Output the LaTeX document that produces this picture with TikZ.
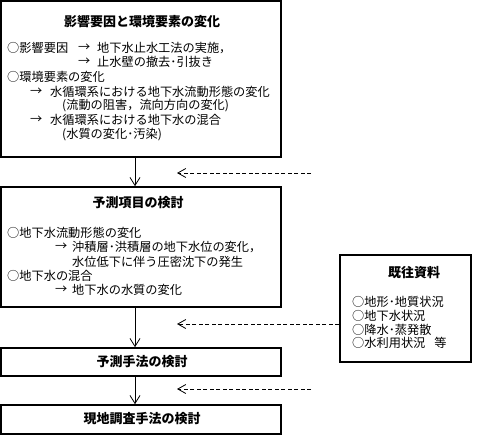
\documentclass[tikz,border=0pt]{standalone}
\usepackage{fontspec}
\setmainfont{Noto Sans CJK JP}
\usetikzlibrary{arrows.meta}
\begin{document}
\begin{tikzpicture}[x=1pt,y=-1pt,
  box/.style={draw,line width=1.6pt,inner sep=0pt},
  ttl/.style={font=\fontsize{13}{13}\selectfont\bfseries,inner sep=0pt},
  txt/.style={font=\fontsize{12.2}{12.2}\selectfont,inner sep=0pt,anchor=west},
  flow/.style={line width=0.8pt,-{Straight Barb[length=8pt,width=10pt]}},
  hint/.style={line width=0.8pt,dash pattern=on 4pt off 2.5pt,-{Straight Barb[length=8pt,width=9pt]}}]
\useasboundingbox (0,0) rectangle (478,438);
% boxes
\node[box,minimum width=280pt,minimum height=156pt] (b1) at (141,79) {};
\node[box,minimum width=280pt,minimum height=120pt] (b2) at (141,247) {};
\node[box,minimum width=280pt,minimum height=28pt] (b3) at (141,362) {};
\node[box,minimum width=280pt,minimum height=29pt] (b4) at (141,419.5) {};
\node[box,minimum width=131pt,minimum height=107pt] (b5) at (405.5,308.5) {};
% titles
\node[ttl] (t1) at (142,22) {影響要因と環境要素の変化};
\node[ttl] (t2) at (138,203) {予測項目の検討};
\node[ttl] (t3) at (142,362) {予測手法の検討};
\node[ttl] (t4) at (142,419) {現地調査手法の検討};
\node[ttl] (t5) at (414,273) {既往資料};
% box 1 text
\node[txt] (a1) at (7,48) {○影響要因};
\node[txt] (a2) at (78,48) {→};
\node[txt] (a3) at (97,48) {地下水止水工法の実施，};
\node[txt] (a4) at (78,62) {→};
\node[txt] (a5) at (97,62) {止水壁の撤去･引抜き};
\node[txt] (a6) at (7,77) {○環境要素の変化};
\node[txt] (a7) at (30,92) {→};
\node[txt] (a8) at (50,92) {水循環系における地下水流動形態の変化};
\node[txt] (a9) at (62,106) {(流動の阻害，流向方向の変化)};
\node[txt] (a10) at (30,120) {→};
\node[txt] (a11) at (50,120) {水循環系における地下水の混合};
\node[txt] (a12) at (62,135) {(水質の変化･汚染)};
% box 2 text
\node[txt] (c1) at (7,233) {○地下水流動形態の変化};
\node[txt] (c2) at (55,247) {→};
\node[txt] (c3) at (72,247) {沖積層･洪積層の地下水位の変化，};
\node[txt] (c4) at (72,262) {水位低下に伴う圧密沈下の発生};
\node[txt] (c5) at (7,276) {○地下水の混合};
\node[txt] (c6) at (55,290) {→};
\node[txt] (c7) at (72,290) {地下水の水質の変化};
% box 5 text
\node[txt] (e1) at (352,302) {○地形･地質状況};
\node[txt] (e2) at (352,316) {○地下水状況};
\node[txt] (e3) at (352,330) {○降水･蒸発散};
\node[txt] (e4) at (352,343) {○水利用状況\hspace{9pt}等};
% connectors
\coordinate (v) at (135,0);
\draw[flow] (b1.south -| v) -- (b2.north -| v);
\draw[flow] (b2.south -| v) -- (b3.north -| v);
\draw[flow] (b3.south -| v) -- (b4.north -| v);
\coordinate (s1) at (311,173);
\coordinate (h1) at (177,173);
\coordinate (h2) at (177,324);
\coordinate (s3) at (311,389);
\coordinate (h3) at (177,389);
\draw[hint] (s1) -- (h1);
\draw[hint] (b5.west |- h2) -- (h2);
\draw[hint] (s3) -- (h3);
\end{tikzpicture}
\end{document}
